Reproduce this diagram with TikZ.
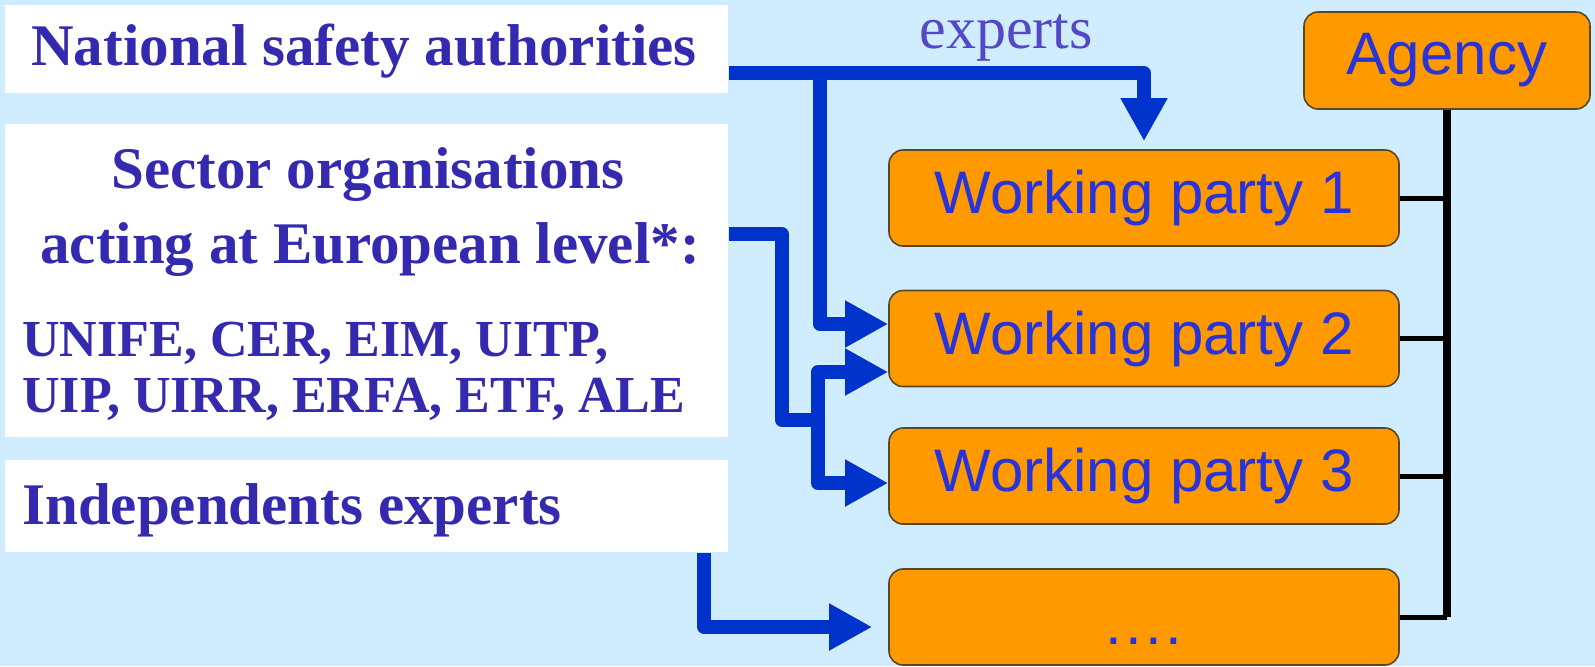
\documentclass[tikz,border=0pt]{standalone}
\usepackage{fontspec}
\setmainfont{Liberation Serif}
\newfontfamily\boxsans{Liberation Sans}
\usepackage{xcolor}
\usepackage{tikz}
\usetikzlibrary{positioning,calc,arrows.meta}
\definecolor{bgblue}{RGB}{208,237,255}
\definecolor{txtblue}{RGB}{52,42,175}
\definecolor{expblue}{RGB}{84,72,200}
\definecolor{wpblue}{RGB}{40,52,218}
\definecolor{arrblue}{RGB}{0,51,204}
\definecolor{wporange}{RGB}{255,153,0}
\definecolor{wpedge}{RGB}{90,70,40}

\begin{document}
\begin{tikzpicture}[x=0.5pt, y=-0.5pt,
    whitebox/.style={rectangle, fill=white, inner sep=0pt, anchor=north west},
    lefttxt/.style={font=\bfseries\fontsize{29.5}{35}\selectfont, text=txtblue, inner sep=0pt},
    orgtxt/.style={font=\bfseries\fontsize{26}{30}\selectfont, text=txtblue, inner sep=0pt},
    wpbox/.style={rectangle, rounded corners=7pt, fill=wporange, draw=wpedge, line width=0.8pt,
        minimum width=255pt, minimum height=48pt, inner sep=0pt, text=wpblue,
        font=\boxsans\fontsize{30}{36}\selectfont},
    arrowline/.style={draw=arrblue, line width=7pt, line join=round,
        -{Triangle[length=21.5pt, width=22pt]}},
    treeline/.style={draw=black, line width=2.5pt}]
    \useasboundingbox (0,0) rectangle (1595,666);
    \fill[bgblue] (0,0) rectangle (1595,666);

    % Left: who sends people
    \node[whitebox, minimum width=361.5pt, minimum height=44pt] (nsa) at (5,5) {};
    \node[whitebox, minimum width=361.5pt, minimum height=156.5pt] (sector) at (5,124) {};
    \node[whitebox, minimum width=361.5pt, minimum height=46pt] (indep) at (5,460) {};
    \node[lefttxt, anchor=base west] (nsatxt) at (31,65) {National safety authorities};
    \node[lefttxt, anchor=base] (sectxt) at (368,188) {Sector organisations};
    \node[lefttxt, anchor=base] (acttxt) at (370,263) {acting at European level*:};
    \node[orgtxt, anchor=base west] (orgone) at (22,356) {UNIFE, CER, EIM, UITP,};
    \node[orgtxt, anchor=base west] (orgtwo) at (22,412) {UIP, UIRR, ERFA, ETF, ALE};
    \node[lefttxt, anchor=base west] (indtxt) at (22,524) {Independents experts};

    % Right: agency and its working parties
    \node[wpbox, minimum width=143pt, minimum height=48.5pt] (agency) at (1447,60.5) {Agency};
    \node[wpbox] (wp1) at (1144,198) {Working party 1};
    \node[wpbox] (wp2) at (1144,338.5) {Working party 2};
    \node[wpbox] (wp3) at (1144,476) {Working party 3};
    \node[wpbox, text height=30pt, text depth=3pt] (dots) at (1144,617) {.\kern1.7pt.\kern1.7pt.\kern1.7pt.};

    % tree
    \draw[treeline, line width=4pt] (agency.south) -- (agency.south |- dots.east);
    \foreach \wp in {wp1,wp2,wp3,dots}
        \draw[treeline] (\wp.east) -- (\wp.east -| agency.south);

    % national authorities -> WP1 and WP2
    \node[font=\fontsize{30}{36}\selectfont, text=expblue, inner sep=0pt, anchor=base] (experts) at (1006,48) {experts};
    \coordinate (nsasplit) at (820,73);
    \draw[arrowline, shorten >=4pt] ([yshift=-12pt]nsa.east) -| (wp1.north);
    \draw[arrowline] (nsasplit) |- ([yshift=7.25pt]wp2.west);

    % sector organisations -> WP2 and WP3
    \coordinate (secjoin) at (818,420);
    \draw[arrowline, -] ([yshift=23.25pt]sector.east) -| (782,420) -- (secjoin);
    \draw[arrowline] (secjoin) |- ([yshift=-16.75pt]wp2.west);
    \draw[arrowline] (secjoin) |- ([yshift=-3.5pt]wp3.west);

    % independents -> ....
    \draw[arrowline, shorten >=8pt] ([xshift=168.75pt]indep.south) |- ([yshift=-5pt]dots.west);
\end{tikzpicture}
\end{document}
